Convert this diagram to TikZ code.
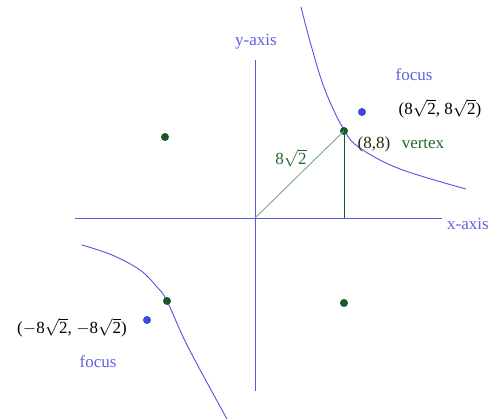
\documentclass[tikz,border=0pt]{standalone}
\usepackage{fontspec}
\setmainfont{Liberation Serif}
\usetikzlibrary{positioning,calc}
\definecolor{axisblue}{RGB}{88,88,214}
\definecolor{curveblue}{RGB}{82,82,226}
\definecolor{labelblue}{RGB}{96,96,228}
\definecolor{dotgreen}{RGB}{22,88,40}
\definecolor{textgreen}{RGB}{36,104,48}
\definecolor{legline}{RGB}{120,170,125}
\definecolor{focusblue}{RGB}{62,72,214}
\definecolor{coordtext}{RGB}{40,40,20}

\begin{document}
\begin{tikzpicture}[
    x=1pt, y=-1pt,
    font=\fontsize{17}{19}\selectfont,
    axis/.style={draw=axisblue, line width=0.9pt},
    branch/.style={draw=curveblue, line width=0.9pt},
    dot/.style={circle, fill=dotgreen, inner sep=0pt, minimum size=8pt},
    focusdot/.style={circle, fill=focusblue, inner sep=0pt, minimum size=8pt},
    axislabel/.style={text=labelblue, inner sep=0pt},
    label/.style={inner sep=0pt}
]
\useasboundingbox (0,0) rectangle (496,419);

% Axes
\coordinate (origin) at (255,218);
\coordinate (xleft) at (75,218);
\coordinate (xright) at (442,218);
\coordinate (ytop) at (255,60);
\coordinate (ybottom) at (255,391);
\draw[axis] (xleft) -- (xright);
\draw[axis] (ybottom) -- (ytop);
\node[axislabel] (xlab) at (468,224) {x-axis};
\node[axislabel] (ylab) at (256,42) {y-axis};

% Hyperbola branches
\draw[branch] plot[smooth, tension=0.6] coordinates
    {(301,7) (311,45) (325,90) (344,130) (360,148) (400,169) (466,189)};
\draw[branch] plot[smooth, tension=0.6] coordinates
    {(82,245) (112,255) (140,270) (157,287) (167,301) (188,347) (227,419)};

% Points
\node[dot] (vertex) at (344,131) {};
\node[dot] (vertex2) at (167,301) {};
\node[dot] (ulpt) at (165,137) {};
\node[dot] (lrpt) at (344,303) {};
\node[focusdot] (focus) at (362,112) {};
\node[focusdot] (focus2) at (147,320) {};
\coordinate (foot) at (344,218);

% Distance to vertex
\draw[legline, line width=0.9pt] (origin) -- (vertex.center);
\draw[dotgreen, line width=0.9pt] (vertex.center) -- (foot);
\node[label, text=textgreen] (dist) at (291,158) {8$\sqrt{\mathrm{2}}$};

% Labels
\node[label, text=labelblue] (flab) at (414,75) {focus};
\node[label] (fcoord) at (440,109) {(8$\sqrt{\mathrm{2}}$, 8$\sqrt{\mathrm{2}}$)};
\node[label, text=coordtext] (vcoord) at (374,144) {(8,8)};
\node[label, text=textgreen] (vlab) at (423,144) {vertex};
\node[label] (fcoord2) at (72,328) {($-$8$\sqrt{\mathrm{2}}$, $-$8$\sqrt{\mathrm{2}}$)};
\node[label, text=labelblue] (flab2) at (98,362) {focus};

\end{tikzpicture}
\end{document}
